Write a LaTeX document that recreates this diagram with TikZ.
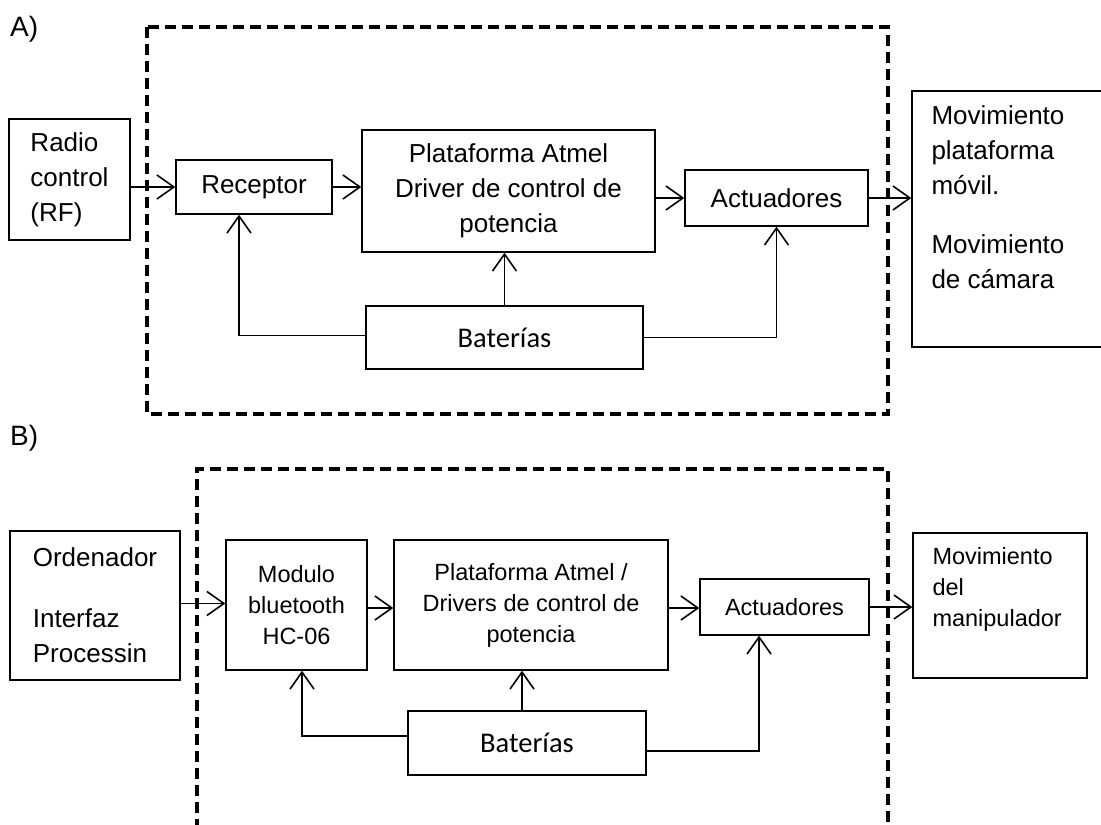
\documentclass[tikz,border=0pt]{standalone}
\usepackage{fontspec}
\setmainfont{Liberation Sans}
\newfontfamily\calfont{Carlito}
\usepackage{tikz}
\usetikzlibrary{arrows.meta}

\newcommand{\fA}{\fontsize{26}{35}\selectfont}
\newcommand{\fB}{\fontsize{23.5}{31}\selectfont}
\newcommand{\fBat}{\calfont\fontsize{28.5}{32}\selectfont}

\tikzset{
  blk/.style={draw, line width=1.4pt, inner sep=0pt, align=center},
  toplbl/.style={anchor=north west, align=left, inner xsep=20pt, inner ysep=15pt},
  arr/.style={line width=1.6pt, -{Straight Barb[length=17pt, width=24pt]}},
  frame/.style={line width=3.5pt, dash pattern=on 11pt off 6pt},
}

\begin{document}
\begin{tikzpicture}[x=1pt, y=-1pt]
  \useasboundingbox (0,0) rectangle (1101,825);

  % A) radio control
  \node[anchor=base west, inner sep=0pt, font=\fontsize{28}{30}\selectfont] (labA) at (10,36) {A)};
  \draw[frame] (147,27) rectangle (888,414);

  \node[blk, minimum width=121pt, minimum height=121pt, align=left, font=\fA] (radio) at (69.5,179.5) {Radio\\control\\(RF)};
  \node[blk, minimum width=156pt, minimum height=54pt, font=\fA] (receptor) at (254,187) {Receptor};
  \node[blk, minimum width=293pt, minimum height=122pt, font=\fA] (platA) at (508.5,191) {Plataforma Atmel\\Driver de control de\\potencia};
  \node[blk, minimum width=183pt, minimum height=56pt, font=\fA] (actA) at (776.5,198) {Actuadores};
  \node[blk, minimum width=277pt, minimum height=63pt, font=\fBat] (batA) at (504.5,337.5) {Baterías};
  \node[blk, minimum width=203pt, minimum height=256pt,
    label={[toplbl, font=\fA]north west:Movimiento\\plataforma\\móvil.\\[24pt]Movimiento\\de cámara}] (movA) at (1013.5,219) {};

  \draw[arr] (radio.east |- receptor.west) -- (receptor.west);
  \draw[arr] (receptor.east) -- (receptor.east -| platA.west);
  \draw[arr] (platA.east |- actA.west) -- (actA.west);
  \draw[arr] (actA.east) -- (actA.east -| movA.west);
  \draw[arr] ([yshift=2pt]batA.west) -| ([xshift=-15pt]receptor.south);
  \draw[arr] (batA.north) -- (batA.north |- platA.south);
  \draw[arr] (batA.east) -| (actA.south);

  % B) ordenador
  \node[anchor=base west, inner sep=0pt, font=\fontsize{28}{30}\selectfont] (labB) at (10,445) {B)};
  \draw[frame] (197,830) -- (197,469) -- (888,469) -- (888,830);

  \node[blk, minimum width=170pt, minimum height=149pt, align=left, font=\fA] (ord) at (95,605.5) {Ordenador\\[26pt]Interfaz\\Processin};
  \node[blk, minimum width=141pt, minimum height=130pt, font=\fB] (mod) at (296.5,605) {Modulo\\bluetooth\\HC-06};
  \node[blk, minimum width=274pt, minimum height=130pt, font=\fB] (platB) at (531,605) {Plataforma Atmel /\\Drivers de control de\\potencia};
  \node[blk, minimum width=169pt, minimum height=56pt, font=\fB] (actB) at (784.5,607) {Actuadores};
  \node[blk, minimum width=238pt, minimum height=64pt, font=\fBat] (batB) at (527,743) {Baterías};
  \node[blk, minimum width=174pt, minimum height=145pt,
    label={[toplbl, font=\fB]north west:Movimiento\\del\\manipulador}] (movB) at (1000,605.5) {};

  \draw[arr] ([yshift=2pt]ord.east) -- ([yshift=2pt]ord.east -| mod.west);
  \draw[arr] ([yshift=-3pt]mod.east) -- ([yshift=-3pt]mod.east -| platB.west);
  \draw[arr] ([yshift=-3pt]platB.east) -- ([yshift=-3pt]platB.east -| actB.west);
  \draw[arr] (actB.east) -- (actB.east -| movB.west);
  \draw[arr] ([yshift=7pt]batB.west) -| ([xshift=5.5pt]mod.south);
  \draw[arr] ([xshift=-5pt]batB.north) -- ([xshift=-5pt]batB.north |- platB.south);
  \draw[arr] ([yshift=-8pt]batB.east) -| ([xshift=-25.5pt]actB.south);
\end{tikzpicture}
\end{document}
